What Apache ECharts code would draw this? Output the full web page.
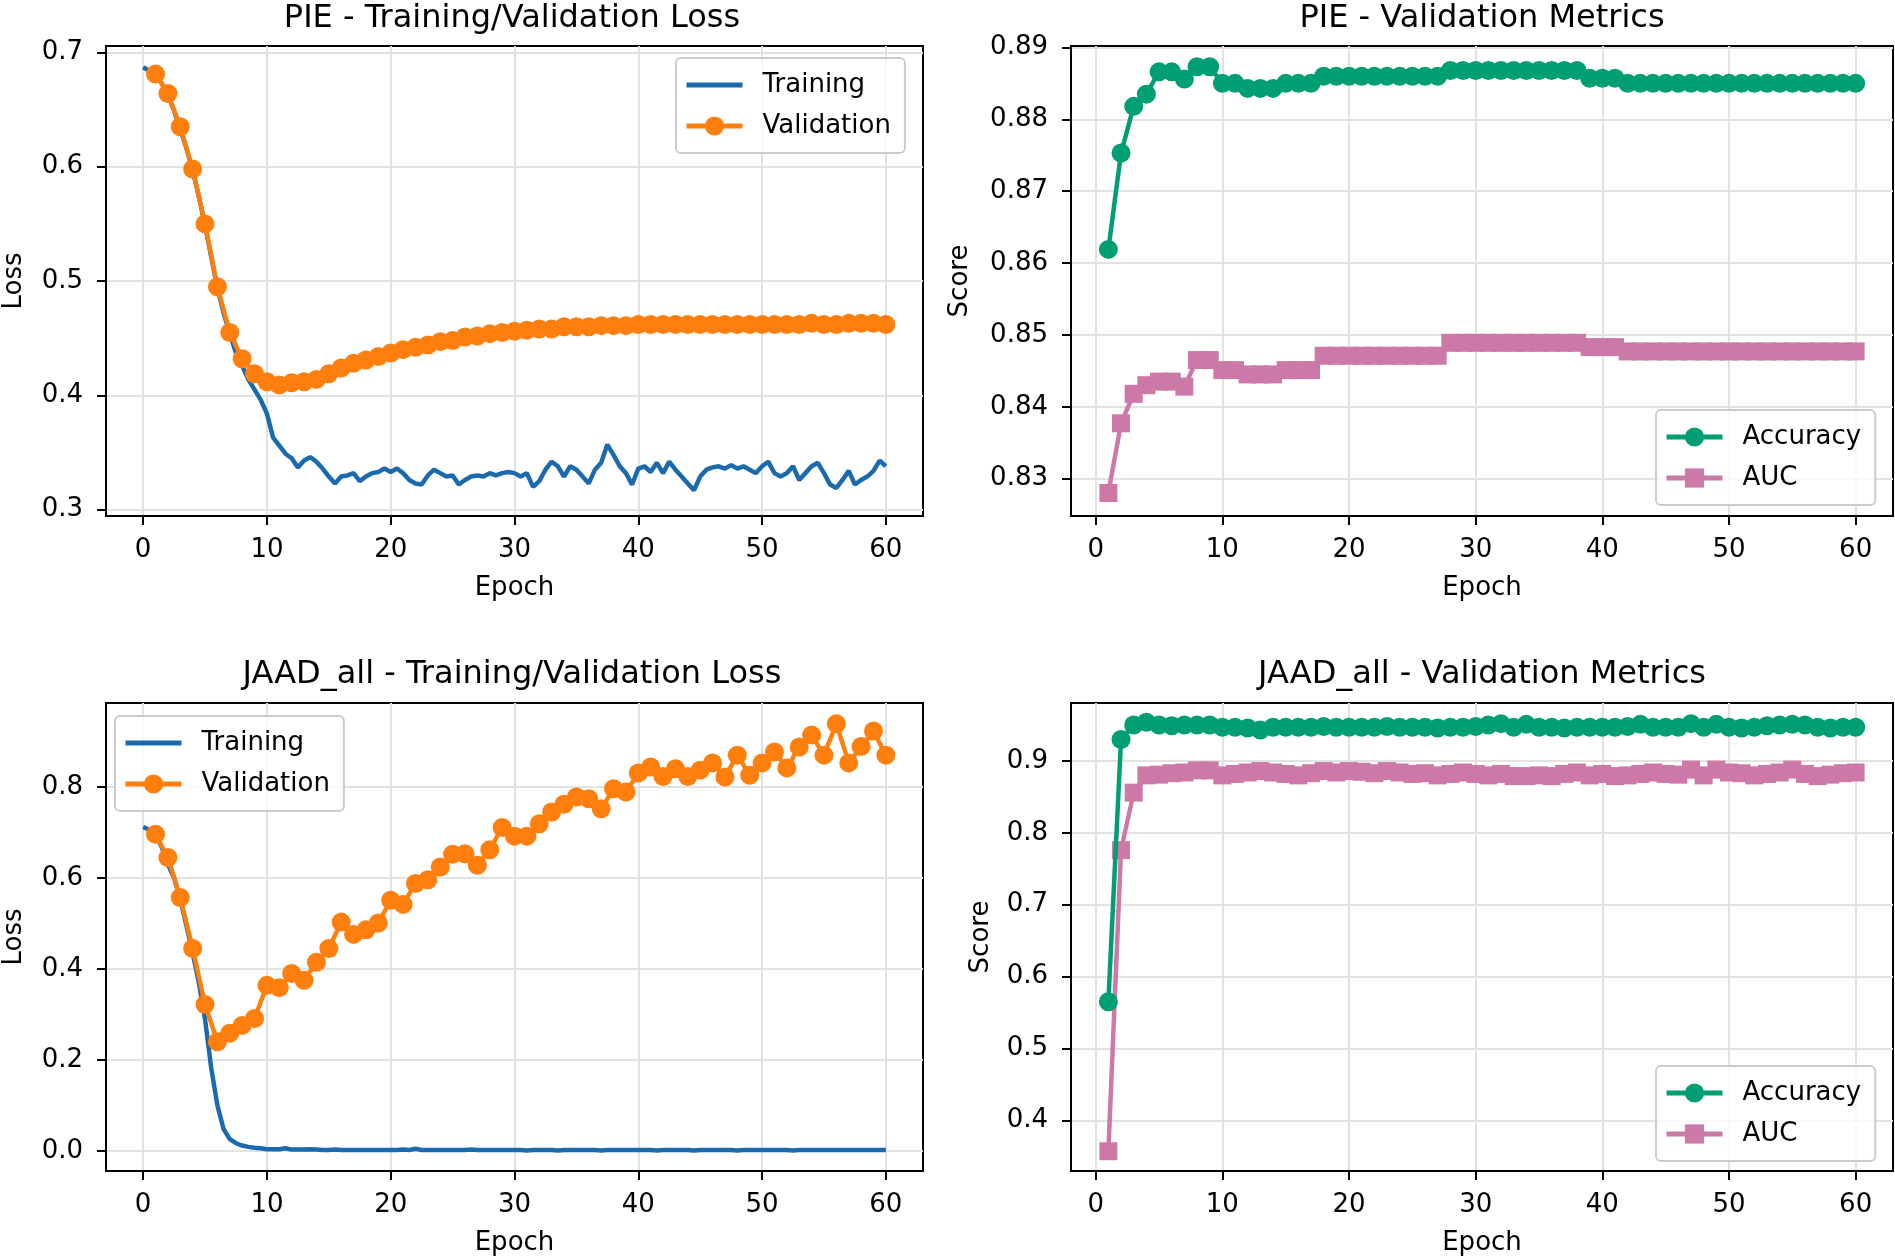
<!DOCTYPE html>
<html>
<head>
<meta charset="utf-8">
<title>PIE / JAAD_all training curves</title>
<script src="https://cdn.jsdelivr.net/npm/echarts@6/dist/echarts.min.js"></script>
<style>
  html, body { margin: 0; padding: 0; background: #fff; }
  #main { width: 1895px; height: 1260px; }
</style>
</head>
<body>
<div id="main"></div>
<script>
// ---- data ----
// training loss is logged every half epoch (index i -> epoch i / 2)
var pieTrainLoss = [
  0.687,0.684,0.680,0.673,0.663,0.649,0.633,0.616,0.597,0.574,
  0.549,0.521,0.494,0.472,0.454,0.437,0.426,0.414,0.405,0.396,
  0.384,0.363,0.356,0.349,0.345,0.337,0.343,0.346,0.342,0.336,
  0.329,0.323,0.329,0.330,0.332,0.325,0.329,0.332,0.333,0.336,
  0.333,0.336,0.332,0.326,0.323,0.322,0.330,0.335,0.332,0.329,
  0.330,0.322,0.326,0.329,0.330,0.329,0.332,0.330,0.332,0.333,
  0.332,0.329,0.332,0.320,0.325,0.335,0.342,0.338,0.329,0.338,
  0.335,0.329,0.323,0.335,0.341,0.357,0.348,0.338,0.332,0.322,
  0.336,0.338,0.333,0.341,0.332,0.342,0.335,0.329,0.323,0.317,
  0.329,0.335,0.337,0.338,0.336,0.339,0.336,0.338,0.335,0.332,
  0.338,0.342,0.332,0.329,0.332,0.338,0.326,0.332,0.338,0.341,
  0.332,0.322,0.319,0.326,0.334,0.322,0.326,0.329,0.334,0.343,
  0.338
];
var pieValLoss = [
  0.681,0.664,0.635,0.598,0.550,0.495,0.455,0.432,0.419,0.412,
  0.409,0.411,0.412,0.414,0.419,0.424,0.428,0.431,0.434,0.437,
  0.440,0.442,0.444,0.447,0.448,0.451,0.452,0.454,0.455,0.456,
  0.457,0.458,0.458,0.460,0.460,0.460,0.461,0.461,0.461,0.462,
  0.462,0.462,0.462,0.462,0.462,0.462,0.462,0.462,0.462,0.462,
  0.462,0.462,0.462,0.463,0.462,0.462,0.463,0.463,0.463,0.462
];
var pieAcc = [
  0.8619,0.8753,0.8818,0.8835,0.8866,0.8866,0.8856,0.8873,0.8873,0.8850,
  0.8850,0.8843,0.8843,0.8843,0.8850,0.8850,0.8850,0.8860,0.8860,0.8860,
  0.8860,0.8860,0.8860,0.8860,0.8860,0.8860,0.8860,0.8868,0.8868,0.8868,
  0.8868,0.8868,0.8868,0.8868,0.8868,0.8868,0.8868,0.8868,0.8857,0.8857,
  0.8857,0.8850,0.8850,0.8850,0.8850,0.8850,0.8850,0.8850,0.8850,0.8850,
  0.8850,0.8850,0.8850,0.8850,0.8850,0.8850,0.8850,0.8850,0.8850,0.8850
];
var pieAuc = [
  0.8280,0.8377,0.8418,0.8430,0.8435,0.8435,0.8428,0.8465,0.8465,0.8451,
  0.8451,0.8445,0.8445,0.8445,0.8451,0.8451,0.8451,0.8471,0.8471,0.8471,
  0.8471,0.8471,0.8471,0.8471,0.8471,0.8471,0.8471,0.8489,0.8489,0.8489,
  0.8489,0.8489,0.8489,0.8489,0.8489,0.8489,0.8489,0.8489,0.8483,0.8483,
  0.8483,0.8477,0.8477,0.8477,0.8477,0.8477,0.8477,0.8477,0.8477,0.8477,
  0.8477,0.8477,0.8477,0.8477,0.8477,0.8477,0.8477,0.8477,0.8477,0.8477
];
var jaadTrainLoss = [
  0.712,0.706,0.694,0.668,0.630,0.600,0.553,0.495,0.435,0.370,
  0.290,0.182,0.100,0.048,0.026,0.017,0.012,0.009,0.007,0.006,
  0.004,0.004,0.004,0.006,0.003,0.003,0.003,0.004,0.003,0.002,
  0.002,0.003,0.002,0.002,0.002,0.002,0.002,0.002,0.002,0.002,
  0.002,0.002,0.003,0.002,0.005,0.002,0.002,0.002,0.002,0.002,
  0.002,0.002,0.002,0.003,0.002,0.002,0.002,0.002,0.002,0.002,
  0.002,0.002,0.001,0.002,0.002,0.002,0.002,0.001,0.002,0.002,
  0.002,0.002,0.002,0.002,0.001,0.002,0.002,0.002,0.002,0.002,
  0.002,0.002,0.002,0.001,0.002,0.002,0.002,0.002,0.002,0.001,
  0.002,0.002,0.002,0.002,0.002,0.002,0.001,0.002,0.002,0.002,
  0.002,0.002,0.002,0.002,0.002,0.001,0.002,0.002,0.002,0.002,
  0.002,0.002,0.002,0.002,0.002,0.002,0.002,0.002,0.002,0.002,
  0.002
];
var jaadValLoss = [
  0.696,0.645,0.557,0.445,0.322,0.240,0.259,0.276,0.291,0.364,
  0.359,0.390,0.375,0.415,0.445,0.503,0.476,0.486,0.501,0.551,
  0.542,0.588,0.596,0.624,0.652,0.653,0.628,0.662,0.711,0.692,
  0.692,0.719,0.745,0.762,0.778,0.774,0.752,0.796,0.789,0.831,
  0.844,0.823,0.840,0.823,0.837,0.853,0.822,0.870,0.826,0.853,
  0.877,0.842,0.888,0.914,0.870,0.939,0.853,0.889,0.923,0.870
];
var jaadAcc = [
  0.565,0.930,0.950,0.954,0.950,0.949,0.950,0.950,0.950,0.947,
  0.947,0.946,0.943,0.947,0.947,0.947,0.947,0.948,0.947,0.947,
  0.947,0.947,0.948,0.947,0.947,0.947,0.946,0.947,0.947,0.948,
  0.950,0.952,0.947,0.951,0.947,0.947,0.946,0.947,0.947,0.947,
  0.947,0.948,0.951,0.947,0.947,0.947,0.952,0.947,0.951,0.947,
  0.946,0.947,0.949,0.950,0.951,0.950,0.947,0.946,0.947,0.947
];
var jaadAuc = [
  0.357,0.776,0.856,0.880,0.881,0.883,0.884,0.887,0.887,0.880,
  0.882,0.884,0.886,0.884,0.882,0.880,0.883,0.886,0.884,0.886,
  0.885,0.883,0.886,0.884,0.882,0.883,0.880,0.882,0.884,0.882,
  0.880,0.882,0.879,0.879,0.880,0.879,0.882,0.884,0.880,0.882,
  0.879,0.880,0.882,0.884,0.882,0.881,0.888,0.880,0.888,0.884,
  0.883,0.880,0.882,0.884,0.888,0.882,0.879,0.881,0.883,0.884
];

var epochTicks = [0, 10, 20, 30, 40, 50, 60];
var pieLossTicks = [0.3, 0.4, 0.5, 0.6, 0.7];
var pieScoreTicks = [0.83, 0.84, 0.85, 0.86, 0.87, 0.88, 0.89];
var jaadLossTicks = [0.0, 0.2, 0.4, 0.6, 0.8];
var jaadScoreTicks = [0.4, 0.5, 0.6, 0.7, 0.8, 0.9];

var titles = ['PIE - Training/Validation Loss', 'PIE - Validation Metrics',
              'JAAD_all - Training/Validation Loss', 'JAAD_all - Validation Metrics'];

// colours
var cTrain = '#1b6aae', cVal = '#ff7f0e', cAcc = '#009e73', cAuc = '#cc79a7';
var FONT = 'DejaVu Sans';

// pair helpers
function halfEpochPairs(vals) {
  var out = [];
  for (var i = 0; i < vals.length; i++) out.push([i / 2, vals[i]]);
  return out;
}
function epochPairs(vals) {
  var out = [];
  for (var i = 0; i < vals.length; i++) out.push([i + 1, vals[i]]);
  return out;
}

var gridLine = { show: true, lineStyle: { color: '#e2e2e2', width: 2 } };

function makeXAxis(gi, min, max) {
  return {
    type: 'value', gridIndex: gi, min: min, max: max,
    name: 'Epoch', nameLocation: 'middle', nameGap: 59,
    nameTextStyle: { fontFamily: FONT, fontSize: 26, color: '#000' },
    axisLine: { show: true, onZero: false, lineStyle: { color: '#000', width: 2 } },
    axisTick: { show: true, length: 9, customValues: epochTicks, lineStyle: { color: '#000', width: 2 } },
    axisLabel: { customValues: epochTicks, margin: 21, fontFamily: FONT, fontSize: 26, color: '#000' },
    splitLine: gridLine
  };
}
function makeYAxis(gi, min, max, ticks, digits, label, gap) {
  return {
    type: 'value', gridIndex: gi, min: min, max: max,
    name: label, nameLocation: 'middle', nameGap: gap, nameRotate: 90,
    nameTextStyle: { fontFamily: FONT, fontSize: 26, color: '#000' },
    axisLine: { show: true, onZero: false, lineStyle: { color: '#000', width: 2 } },
    axisTick: { show: true, length: 9, customValues: ticks, lineStyle: { color: '#000', width: 2 } },
    axisLabel: {
      customValues: ticks, margin: 23, fontFamily: FONT, fontSize: 26, color: '#000',
      formatter: function (v) { return Number(v).toFixed(digits); }
    },
    splitLine: gridLine
  };
}
// the Training entry is a bare line in the legend, so its symbol is hidden
function makeLegend(left, top, names) {
  return {
    orient: 'vertical', left: left, top: top,
    data: names.map(function (n) {
      return n === 'Training' ? { name: n, itemStyle: { opacity: 0 } } : { name: n };
    }),
    backgroundColor: 'rgba(255,255,255,0.8)', borderColor: '#cccccc', borderWidth: 2, borderRadius: 5,
    padding: [14, 14, 14, 8], itemWidth: 56, itemHeight: 24, itemGap: 15,
    lineStyle: { width: 5 },
    textStyle: { fontFamily: FONT, fontSize: 26, color: '#000', padding: [0, 0, 0, 15] },
    selectedMode: false
  };
}
function lossSeries(gi, train, val) {
  return [{
    name: 'Training', type: 'line', xAxisIndex: gi, yAxisIndex: gi,
    data: halfEpochPairs(train), symbol: 'none',
    lineStyle: { color: cTrain, width: 4.5 }, itemStyle: { color: cTrain }, z: 2
  }, {
    name: 'Validation', type: 'line', xAxisIndex: gi, yAxisIndex: gi,
    data: epochPairs(val), symbol: 'circle', symbolSize: 19,
    lineStyle: { color: cVal, width: 4.5 }, itemStyle: { color: cVal }, z: 3
  }];
}
function metricSeries(gi, acc, auc) {
  return [{
    name: 'Accuracy', type: 'line', xAxisIndex: gi, yAxisIndex: gi,
    data: epochPairs(acc), symbol: 'circle', symbolSize: 19,
    lineStyle: { color: cAcc, width: 4.5 }, itemStyle: { color: cAcc }, z: 3
  }, {
    name: 'AUC', type: 'line', xAxisIndex: gi, yAxisIndex: gi,
    data: epochPairs(auc), symbol: 'rect', symbolSize: 18,
    lineStyle: { color: cAuc, width: 4.5 }, itemStyle: { color: cAuc }, z: 2
  }];
}

var gridBox = { show: true, borderColor: '#000', borderWidth: 2, backgroundColor: '#fff' };
var grids = [
  Object.assign({ left: 101, top: 46, width: 822, height: 470 }, gridBox),
  Object.assign({ left: 1071, top: 46, width: 822, height: 470 }, gridBox),
  Object.assign({ left: 101, top: 703, width: 822, height: 468 }, gridBox),
  Object.assign({ left: 1071, top: 703, width: 822, height: 468 }, gridBox)
];
var titleCenters = [[512, 3], [1482, 3], [512, 659], [1482, 659]];

var option = {
  animation: false,
  backgroundColor: '#fff',
  textStyle: { fontFamily: FONT },
  title: titles.map(function (t, i) {
    return {
      text: t, left: titleCenters[i][0], top: titleCenters[i][1], textAlign: 'center', padding: 0,
      textStyle: { fontFamily: FONT, fontSize: 32, fontWeight: 'normal', color: '#000' }
    };
  }),
  legend: [
    makeLegend(676, 58, ['Training', 'Validation']),
    makeLegend(1656, 410, ['Accuracy', 'AUC']),
    makeLegend(115, 716, ['Training', 'Validation']),
    makeLegend(1656, 1066, ['Accuracy', 'AUC'])
  ],
  grid: grids,
  xAxis: [
    makeXAxis(0, -3, 63),
    makeXAxis(1, -1.95, 62.95),
    makeXAxis(2, -3, 63),
    makeXAxis(3, -1.95, 62.95)
  ],
  yAxis: [
    makeYAxis(0, 0.2945, 0.7056, pieLossTicks, 1, 'Loss', 79),
    makeYAxis(1, 0.8248, 0.8902, pieScoreTicks, 2, 'Score', 98),
    makeYAxis(2, -0.044, 0.9846, jaadLossTicks, 1, 'Loss', 79),
    makeYAxis(3, 0.3295, 0.9807, jaadScoreTicks, 1, 'Score', 77)
  ],
  series: [].concat(
    lossSeries(0, pieTrainLoss, pieValLoss),
    metricSeries(1, pieAcc, pieAuc),
    lossSeries(2, jaadTrainLoss, jaadValLoss),
    metricSeries(3, jaadAcc, jaadAuc)
  )
};

var chart = echarts.init(document.getElementById('main'));
chart.setOption(option);
</script>
</body>
</html>
